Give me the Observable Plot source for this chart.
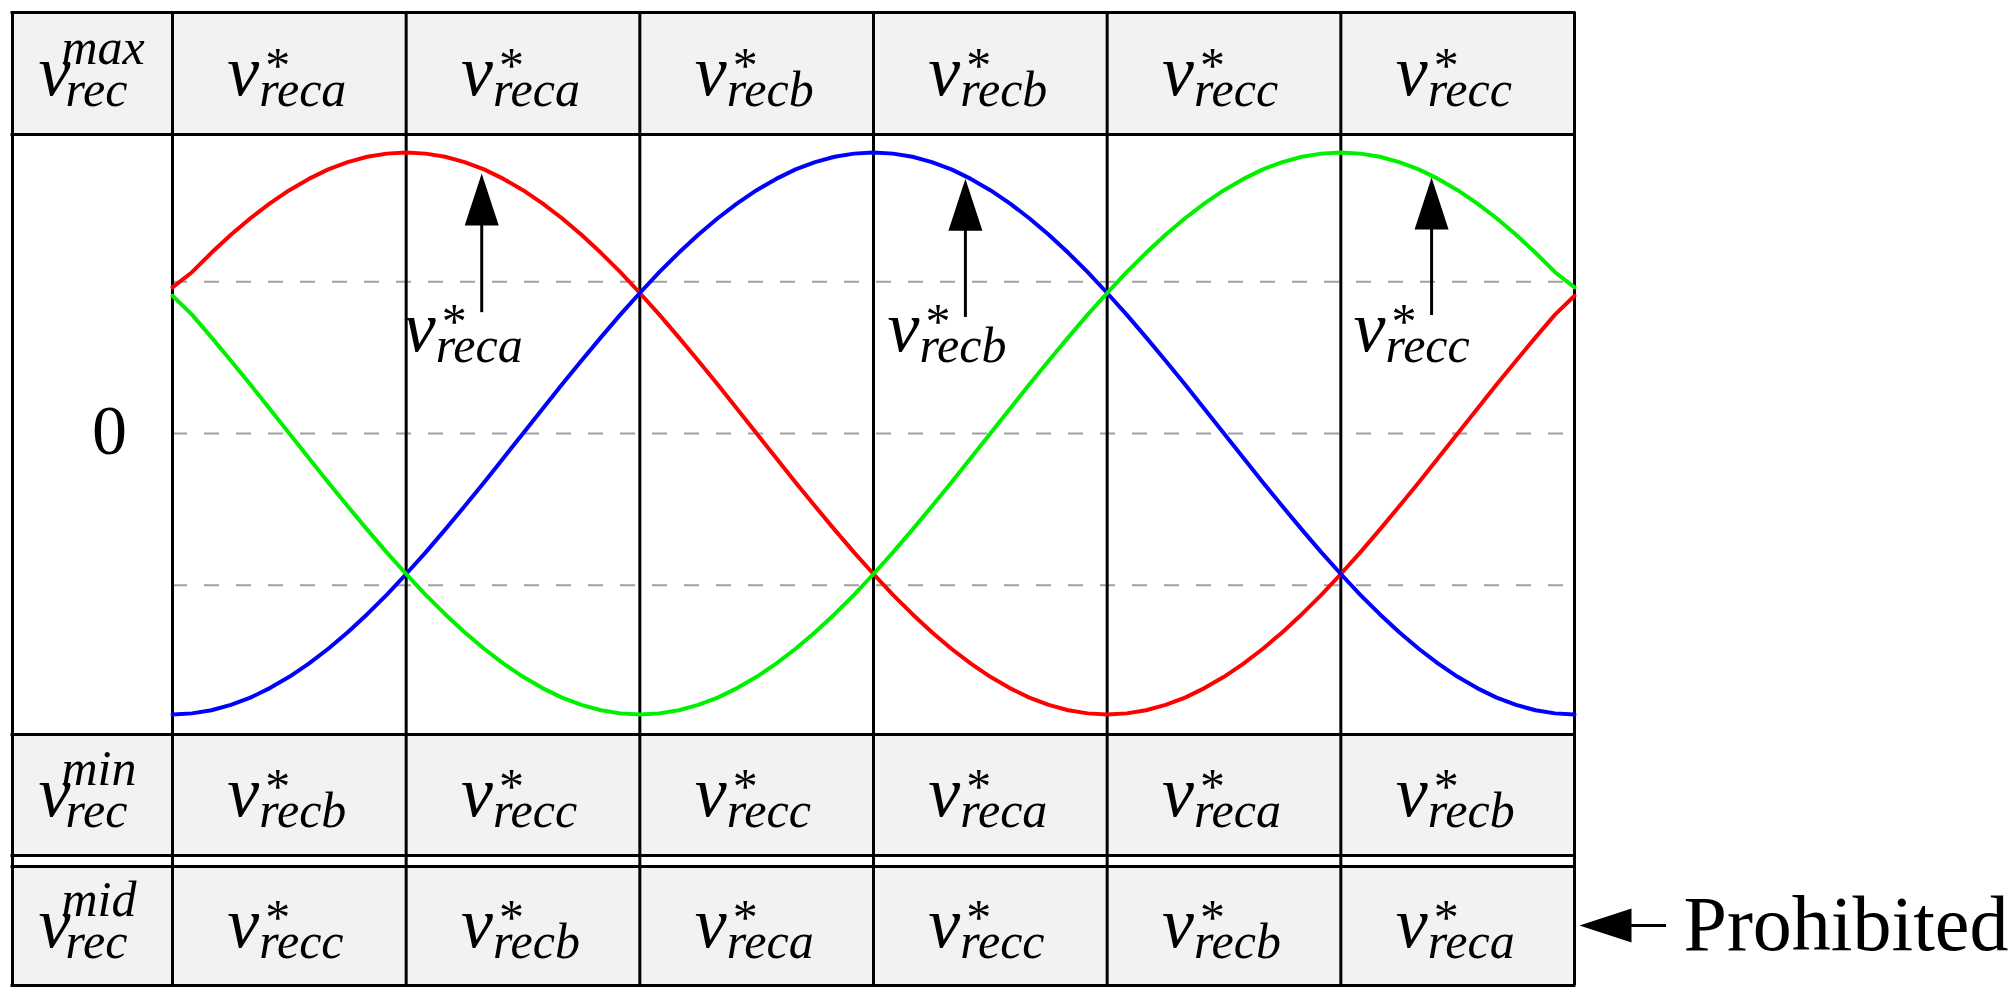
<!DOCTYPE html>
<html>
<head>
<meta charset="utf-8">
<script src="https://cdn.jsdelivr.net/npm/d3@7"></script>
<script src="https://cdn.jsdelivr.net/npm/@observablehq/plot@0.6"></script>
<style>
  html, body { margin: 0; padding: 0; background: #fff; }
  #chart svg { display: block; }
</style>
</head>
<body>
<div id="chart"></div>
<script>
// ---------- data ----------
// electrical angle in degrees across the six 60° sectors
const angles = [0,5,10,15,20,25,30,35,40,45,50,55,60,65,70,75,80,85,90,95,100,105,110,115,120,125,130,135,140,145,150,155,160,165,170,175,180,185,190,195,200,205,210,215,220,225,230,235,240,245,250,255,260,265,270,275,280,285,290,295,300,305,310,315,320,325,330,335,340,345,350,355,360];
// v*_reca (red)
const recaValues = [0.52,0.574,0.643,0.707,0.766,0.819,0.866,0.906,0.94,0.966,0.985,0.996,1,0.996,0.985,0.966,0.94,0.906,0.866,0.819,0.766,0.707,0.643,0.574,0.5,0.423,0.342,0.259,0.174,0.087,0,-0.087,-0.174,-0.259,-0.342,-0.423,-0.5,-0.574,-0.643,-0.707,-0.766,-0.819,-0.866,-0.906,-0.94,-0.966,-0.985,-0.996,-1,-0.996,-0.985,-0.966,-0.94,-0.906,-0.866,-0.819,-0.766,-0.707,-0.643,-0.574,-0.5,-0.423,-0.342,-0.259,-0.174,-0.087,0,0.087,0.174,0.259,0.342,0.423,0.49];
// v*_recb (blue)
const recbValues = [-1,-0.996,-0.985,-0.966,-0.94,-0.906,-0.866,-0.819,-0.766,-0.707,-0.643,-0.574,-0.5,-0.423,-0.342,-0.259,-0.174,-0.087,0,0.087,0.174,0.259,0.342,0.423,0.5,0.574,0.643,0.707,0.766,0.819,0.866,0.906,0.94,0.966,0.985,0.996,1,0.996,0.985,0.966,0.94,0.906,0.866,0.819,0.766,0.707,0.643,0.574,0.5,0.423,0.342,0.259,0.174,0.087,0,-0.087,-0.174,-0.259,-0.342,-0.423,-0.5,-0.574,-0.643,-0.707,-0.766,-0.819,-0.866,-0.906,-0.94,-0.966,-0.985,-0.996,-1];
// v*_recc (green)
const reccValues = [0.49,0.423,0.342,0.259,0.174,0.087,0,-0.087,-0.174,-0.259,-0.342,-0.423,-0.5,-0.574,-0.643,-0.707,-0.766,-0.819,-0.866,-0.906,-0.94,-0.966,-0.985,-0.996,-1,-0.996,-0.985,-0.966,-0.94,-0.906,-0.866,-0.819,-0.766,-0.707,-0.643,-0.574,-0.5,-0.423,-0.342,-0.259,-0.174,-0.087,0,0.087,0.174,0.259,0.342,0.423,0.5,0.574,0.643,0.707,0.766,0.819,0.866,0.906,0.94,0.966,0.985,0.996,1,0.996,0.985,0.966,0.94,0.906,0.866,0.819,0.766,0.707,0.643,0.574,0.52];

// sector boundaries and centres (degrees)
const sectorEdges = [0,60,120,180,240,300,360];
const sectorCenters = [30,90,150,210,270,330];
// dashed reference levels
const dashLevels = [0.54, 0, -0.54];
// table rows: which phase is max / min / mid in each sector
const maxRow = ["reca","reca","recb","recb","recc","recc"];
const minRow = ["recb","recc","recc","reca","reca","recb"];
const midRow = ["recc","recb","reca","recc","recb","reca"];
const rowKeys = ["max","min","mid"];
// annotation arrows on the curves
const arrowAngles = [79.4, 203.6, 323.3];
const arrowTips = [0.925, 0.907, 0.911];
const arrowTails = [0.43, 0.413, 0.42];
const arrowLabels = ["reca","recb","recc"];
const zeroLabel = "0";
const noteText = "Prohibited";

// ---------- scales & layout ----------
const xOpts = {domain: [0, 360], range: [172, 1574]};
const yOpts = {domain: [-1, 1], range: [714, 152]};
const X = Plot.scale({x: xOpts});
const Y = Plot.scale({y: yOpts});
const px = p => X.invert(p);
const py = p => Y.invert(p);
const shiftX = (v, d) => px(X.apply(v) + d);

const FONT = "Liberation Serif, Times New Roman, serif";
const LEFT = px(12);
const TOP = 12, HEAD_BOT = 134, PLOT_BOT = 734, MIN_BOT = 855, MID_TOP = 866, BOTTOM = 985;
const rowCenters = {max: 73, min: 794.5, mid: 925.5};
const rowCells = {max: maxRow, min: minRow, mid: midRow};

const fills = [[TOP, HEAD_BOT], [PLOT_BOT, MIN_BOT], [MID_TOP, BOTTOM]].map(([a, b]) => ({y1: py(a), y2: py(b)}));
const hLines = [TOP, HEAD_BOT, PLOT_BOT, MIN_BOT, MID_TOP, BOTTOM].map(py);
const vLines = [LEFT, ...sectorEdges];

const series = [
  {values: recaValues, color: "#ff0000"},
  {values: recbValues, color: "#0000ff"},
  {values: reccValues, color: "#00f000"}
];

// composite labels  v (italic) + superscript + subscript
const composites = [];
for (const k of rowKeys) {
  const base = rowCenters[k] + 21;
  composites.push({x: shiftX(px(92), -54), y: py(base), sup: k, supItalic: true, supOff: 23, supDy: -31, sub: "rec", subOff: 27, subDy: 11});
  rowCells[k].forEach((s, i) => composites.push({x: shiftX(sectorCenters[i], -62), y: py(base), sup: "*", supItalic: false, supOff: 38, supDy: -13, sub: s, subOff: 32, subDy: 11}));
}
const arrows = arrowAngles.map((a, i) => ({x: a, tip: arrowTips[i], tail: arrowTails[i]}));
arrowAngles.forEach((a, i) => composites.push({x: shiftX(a, -78), y: py(350), sup: "*", supItalic: false, supOff: 38, supDy: -13, sub: arrowLabels[i], subOff: 32, subDy: 11}));

// filled arrowheads
const headUp = {draw(ctx) { ctx.moveTo(0, 0); ctx.lineTo(17, 52); ctx.lineTo(-17, 52); ctx.closePath(); }};
const headLeft = {draw(ctx) { ctx.moveTo(0, 0); ctx.lineTo(52, -17); ctx.lineTo(52, 17); ctx.closePath(); }};

const chart = Plot.plot({
  width: 2014,
  height: 1000,
  marginTop: 0, marginBottom: 0, marginLeft: 0, marginRight: 0,
  x: {...xOpts, axis: null},
  y: {...yOpts, axis: null},
  style: {background: "#fff", overflow: "visible"},
  marks: [
    Plot.rect(fills, {x1: LEFT, x2: 360, y1: "y1", y2: "y2", fill: "#f2f2f2"}),
    Plot.ruleY(dashLevels, {x1: 0, x2: 360, stroke: "#a0a0a0", strokeWidth: 2, strokeDasharray: "15,17"}),
    Plot.ruleX(vLines, {y1: py(TOP), y2: py(BOTTOM), stroke: "#000", strokeWidth: 3}),
    Plot.ruleY(hLines, {x1: LEFT, x2: 360, stroke: "#000", strokeWidth: 3, strokeLinecap: "square"}),
    ...series.map(s => Plot.line(angles.map((a, i) => ({a, v: s.values[i]})), {x: "a", y: "v", stroke: s.color, strokeWidth: 4})),
    // all "v" labels (table cells, row labels, curve annotations); sup/sub added as tspans below
    Plot.text(composites, {x: "x", y: "y", text: () => "v", fontFamily: FONT, fontSize: 72, fontStyle: "italic", fill: "#000", textAnchor: "start", lineAnchor: "bottom", className: "vlabel"}),
    // zero label
    Plot.text([zeroLabel], {x: px(109), y: 0, text: d => d, dy: 20, fontFamily: FONT, fontSize: 70, fill: "#000", textAnchor: "middle", lineAnchor: "bottom"}),
    // arrows on curves
    Plot.ruleX(arrows, {x: "x", y1: d => py(Y.apply(d.tip) + 45), y2: "tail", stroke: "#000", strokeWidth: 3}),
    Plot.dot(arrows, {x: "x", y: "tip", symbol: headUp, r: 5, fill: "#000", stroke: "none"}),
    // "Prohibited" pointer
    Plot.ruleY([py(925)], {x1: px(1620), x2: px(1666), stroke: "#000", strokeWidth: 3}),
    Plot.dot([py(925)], {x: px(1579), y: d => d, symbol: headLeft, r: 5, fill: "#000", stroke: "none"}),
    Plot.text([noteText], {x: px(1683), y: py(949), text: d => d, fontFamily: FONT, fontSize: 78, fill: "#000", textAnchor: "start", lineAnchor: "bottom"})
  ]
});
document.getElementById("chart").appendChild(chart);

// add superscript / subscript tspans inside each "v" text element
(function compose() {
  const NS = "http://www.w3.org/2000/svg";
  let els = chart.querySelectorAll("g.vlabel text");
  if (els.length !== composites.length) {
    els = Array.from(chart.querySelectorAll("text")).filter(t => t.textContent === "v");
  }
  els.forEach((el, i) => {
    const s = composites[i];
    const base = el.textContent;
    el.textContent = "";
    const t0 = document.createElementNS(NS, "tspan");
    t0.textContent = base;
    const t1 = document.createElementNS(NS, "tspan");
    t1.textContent = s.sup;
    t1.setAttribute("font-size", 50);
    t1.setAttribute("font-style", s.supItalic ? "italic" : "normal");
    const t2 = document.createElementNS(NS, "tspan");
    t2.textContent = s.sub;
    t2.setAttribute("font-size", 50);
    t2.setAttribute("font-style", "italic");
    el.append(t0, t1, t2);
    const vLen = t0.getComputedTextLength();
    const supLen = t1.getComputedTextLength();
    t1.setAttribute("dx", s.supOff - vLen);
    t1.setAttribute("dy", s.supDy);
    t2.setAttribute("dx", s.subOff - (s.supOff + supLen));
    t2.setAttribute("dy", s.subDy - s.supDy);
  });
})();
</script>
</body>
</html>
